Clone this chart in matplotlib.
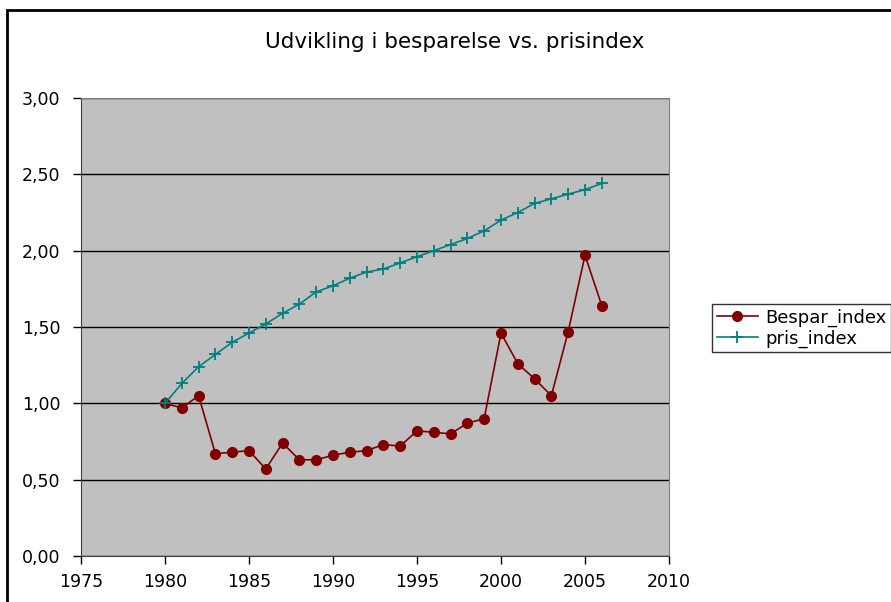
import matplotlib
matplotlib.use("Agg")
import matplotlib.pyplot as plt
from matplotlib.patches import Rectangle
from matplotlib.ticker import FuncFormatter, MultipleLocator


# ----------------------------
# Data
# ----------------------------

years = list(range(1980, 2007))

bespar_index = [
    1.00, 0.97, 1.05, 0.67, 0.68, 0.69, 0.57, 0.74, 0.63, 0.63,
    0.66, 0.68, 0.69, 0.73, 0.72, 0.82, 0.81, 0.80, 0.87, 0.90,
    1.46, 1.26, 1.16, 1.05, 1.47, 1.97, 1.64,
]

pris_index = [
    1.00, 1.13, 1.24, 1.32, 1.40, 1.46, 1.52, 1.59, 1.65, 1.73,
    1.77, 1.82, 1.86, 1.88, 1.92, 1.96, 2.00, 2.04, 2.08, 2.13,
    2.20, 2.25, 2.31, 2.34, 2.37, 2.40, 2.44,
]

TITLE = "Udvikling i besparelse vs. prisindex"


# ----------------------------
# Plot
# ----------------------------

plt.rcParams["font.family"] = "DejaVu Sans"

fig = plt.figure(figsize=(8.91, 6.02), dpi=100)
fig.patch.set_facecolor("white")

# chart border
fig.add_artist(Rectangle((7 / 891, -0.05), 1.1, 1 - 10 / 602 + 0.05,
                         transform=fig.transFigure, fill=False,
                         edgecolor="black", linewidth=2))

ax = fig.add_axes([81 / 891, 46 / 602, 588 / 891, 458 / 602])
ax.set_facecolor("#c0c0c0")

ax.plot(years, bespar_index, color="#800000", linewidth=1.2,
        marker="o", markersize=7, label="Bespar_index")
ax.plot(years, pris_index, color="#008080", linewidth=1.2,
        marker="+", markersize=9, markeredgewidth=1.3, label="pris_index")

ax.set_xlim(1975, 2010)
ax.set_ylim(0, 3)
ax.xaxis.set_major_locator(MultipleLocator(5))
ax.yaxis.set_major_locator(MultipleLocator(0.5))
ax.yaxis.set_major_formatter(FuncFormatter(lambda v, _: f"{v:.2f}".replace(".", ",")))

ax.grid(axis="y", color="black", linewidth=1)
ax.set_axisbelow(True)
ax.tick_params(direction="out", length=6, width=1, labelsize=12.5, colors="black")
ax.tick_params(axis="x", pad=6)
ax.tick_params(axis="y", pad=9)

for side in ("top", "right"):
    ax.spines[side].set_color("#808080")
for side in ("left", "bottom"):
    ax.spines[side].set_color("#404040")

fig.text(455 / 891, 1 - 42 / 602, TITLE, ha="center", va="center", fontsize=15.5)

ax.legend(loc="center left", bbox_to_anchor=(712 / 891, 1 - 328 / 602),
          bbox_transform=fig.transFigure, frameon=True, fancybox=False,
          edgecolor="black", fontsize=13, handlelength=2.3,
          borderpad=0.25, labelspacing=0.15, handletextpad=0.4,
          borderaxespad=0)

fig.savefig("out.png", dpi=100)
